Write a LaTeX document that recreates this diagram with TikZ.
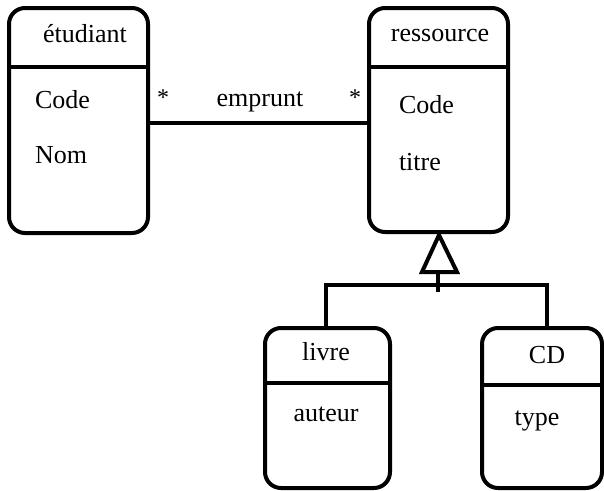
\documentclass[tikz,border=0pt]{standalone}
\usepackage{fontspec}
\setmainfont{Liberation Serif}
\begin{document}
\begin{tikzpicture}[x=1pt,y=-1pt,
  line width=4pt,
  umlbox/.style={draw=black,rounded corners=16pt,line width=4pt,inner sep=0pt,outer sep=0pt},
  lbl/.style={inner sep=0pt,font=\fontsize{26}{30}\selectfont},
  attr/.style={lbl,anchor=west},
  star/.style={inner sep=0pt,font=\fontsize{24}{28}\selectfont}]
\useasboundingbox (0,0) rectangle (604,490);
% boxes
\node[umlbox,minimum width=139,minimum height=225] (etu) at (78.5,120.5) {};
\node[umlbox,minimum width=139,minimum height=224] (res) at (438.5,120) {};
\node[umlbox,minimum width=125,minimum height=160] (livre) at (327.5,408) {};
\node[umlbox,minimum width=120,minimum height=160] (cd) at (542,408) {};
% dividers
\draw (etu.west |- 0,67) -- (etu.east |- 0,67);
\draw (res.west |- 0,67) -- (res.east |- 0,67);
\draw (livre.west |- 0,383) -- (livre.east |- 0,383);
\draw (cd.west |- 0,385) -- (cd.east |- 0,385);
% texts
\node[lbl] (etut) at (85,34) {étudiant};
\node[attr] (etuc) at (33,100) {Code};
\node[attr] (etun) at (33,155) {Nom};
\node[lbl] (rest) at (440,35) {ressource};
\node[attr] (resc) at (397,105) {Code};
\node[attr] (rest2) at (397,162) {titre};
\node[lbl] (livt) at (326,352) {livre};
\node[lbl] (liva) at (326,414) {auteur};
\node[lbl] (cdt) at (547,355) {CD};
\node[lbl] (cdty) at (537,421) {type};
% association
\draw (etu.east |- 0,123) -- (res.west |- 0,123);
\node[lbl] (emp) at (260,102) {emprunt};
\node[star] (s1) at (163,98) {*};
\node[star] (s2) at (355,98) {*};
% generalization
\coordinate (apex) at (439,235);
\coordinate (bl) at (422,272);
\coordinate (br) at (457,272);
\coordinate (stem) at (438,292);
\coordinate (hl) at (326,285);
\coordinate (hr) at (547,285);
\draw[line join=miter] (apex) -- (bl) -- (br) -- cycle;
\draw (stem |- bl) -- (stem);
\draw (livre.north -| hl) -- (hl) -- (hr) -- (hr |- cd.north);
\end{tikzpicture}
\end{document}
